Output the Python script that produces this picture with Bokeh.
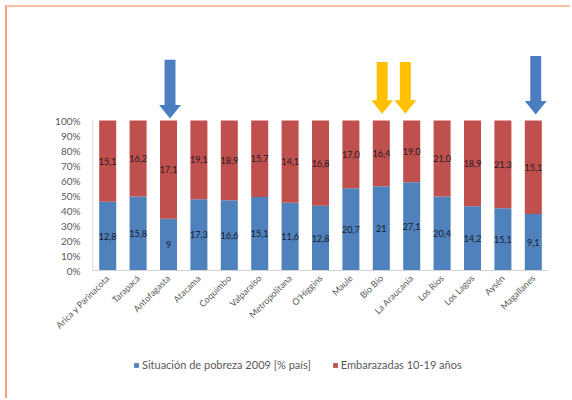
import math
from bokeh.plotting import figure
from bokeh.layouts import column
from bokeh.models import FixedTicker, NumeralTickFormatter, Legend, LegendItem, ColumnDataSource, Label
from bokeh.core.properties import value
from bokeh.embed import file_html
from bokeh.resources import INLINE

# ---------------- data ----------------
regiones = ["Arica y Parinacota", "Tarapacá", "Antofagasta", "Atacama", "Coquimbo",
            "Valparaíso", "Metropolitana", "O'Higgins", "Maule", "Bío Bío",
            "La Araucanía", "Los Ríos", "Los Lagos", "Aysén", "Magallanes"]
pobreza_2009 = ["12,8", "15,8", "9", "17,3", "16,6", "15,1", "11,6", "12,8",
                "20,7", "21", "27,1", "20,4", "14,2", "15,1", "9,1"]
embarazadas = ["15,1", "16,2", "17,1", "19,1", "18,9", "15,7", "14,1", "16,8",
               "17,0", "16,4", "19,0", "21,0", "18,9", "21,3", "15,1"]
y_ticks = [0.0, 0.1, 0.2, 0.3, 0.4, 0.5, 0.6, 0.7, 0.8, 0.9, 1.0]
serie_nombres = ["Situación de pobreza 2009 [% país]", "Embarazadas 10-19 años"]
flechas_azules = ["Antofagasta", "Magallanes"]
flechas_amarillas = ["Bío Bío", "La Araucanía"]

# ---------------- styles ----------------
FONT = "Lato"
BLUE = "#4F81BD"
RED = "#C0504D"
YELLOW = "#FFC000"
ARROW_BLUE = "#4A7EC0"
GRAY = "#595959"
ORANGE = "#F5A07A"

pv = [float(s.replace(",", ".")) for s in pobreza_2009]
ev = [float(s.replace(",", ".")) for s in embarazadas]
x = list(range(len(regiones)))
frac = [a / (a + b) for a, b in zip(pv, ev)]

src = ColumnDataSource(dict(
    x=x, frac=frac, one=[1.0] * len(x), zero=[0.0] * len(x),
    mid_p=[f / 2 for f in frac], mid_e=[(f + 1) / 2 for f in frac],
    lab_p=pobreza_2009, lab_e=embarazadas,
))

W = 563
p = figure(width=W, height=340, x_range=(-0.5, len(regiones) - 0.5), y_range=(0, 1.4667),
           output_backend="svg", toolbar_location=None,
           min_border_left=85, min_border_right=W - 541, min_border_top=43, min_border_bottom=77)
p.frame_align = False
p.background_fill_color = "white"
p.border_fill_color = "white"
p.outline_line_color = None
p.xgrid.visible = False
p.ygrid.visible = False

p.vbar(x="x", bottom="zero", top="frac", width=0.56, source=src,
       fill_color=BLUE, line_color=None)
p.vbar(x="x", bottom="frac", top="one", width=0.56, source=src,
       fill_color=RED, line_color=None)

common = dict(text_align="center", text_baseline="middle", text_font=value(FONT),
              text_font_size="9px", text_color="#1A1A24")
p.text(x="x", y="mid_p", text="lab_p", source=src, **common)
p.text(x="x", y="mid_e", text="lab_e", source=src, **common)

# y axis line (only 0..100%)
p.segment(x0=[-0.5], y0=[0], x1=[-0.5], y1=[1], line_color="#D0D0D0", line_width=1.5)

# arrows
def arrow(cx, top, tip):
    sw, hw, hl = 0.18, 0.36, 0.09
    xs = [cx - sw, cx + sw, cx + sw, cx + hw, cx, cx - hw, cx - sw]
    ys = [top, top, tip + hl, tip + hl, tip, tip + hl, tip + hl]
    return xs, ys

arrow_geom = {  # name: (x offset, top, tip)
    "Antofagasta": (0.05, 1.405, 1.013),
    "Magallanes": (0.08, 1.43, 1.04),
    "Bío Bío": (0.03, 1.39, 1.045),
    "La Araucanía": (-0.21, 1.39, 1.045),
}
for names, col in ((flechas_azules, ARROW_BLUE), (flechas_amarillas, YELLOW)):
    xs_all, ys_all = [], []
    for n in names:
        off, top, tip = arrow_geom[n]
        xs, ys = arrow(regiones.index(n) + off, top, tip)
        xs_all.append(xs)
        ys_all.append(ys)
    p.patches(xs_all, ys_all, fill_color=col, line_color=None)

# small stray orange mark at the right edge (screen units, relative to the frame)
p.add_layout(Label(x=472, y=-42, x_units="screen", y_units="screen", text="–",
                   text_color=ORANGE, text_font_size="9px", text_align="center",
                   text_baseline="middle"))

# axes
xa = p.xaxis[0]
xa.ticker = FixedTicker(ticks=x)
xa.major_label_overrides = {i: n for i, n in zip(x, regiones)}
xa.major_label_orientation = math.pi / 4
xa.axis_line_color = "#D0D0D0"
xa.major_tick_line_color = None
xa.minor_tick_line_color = None
xa.major_tick_out = 0
xa.major_label_standoff = 6
xa.major_label_text_font = FONT
xa.major_label_text_font_size = "9px"
xa.major_label_text_color = GRAY

ya = p.yaxis[0]
ya.ticker = FixedTicker(ticks=y_ticks)
ya.formatter = NumeralTickFormatter(format="0%")
ya.axis_line_color = None
ya.major_tick_line_color = None
ya.minor_tick_line_color = None
ya.major_tick_out = 0
ya.major_label_standoff = 12
ya.major_label_text_font = FONT
ya.major_label_text_font_size = "10px"
ya.major_label_text_color = GRAY

# legend strip
lg = figure(width=W, height=51, x_range=(0, 1), y_range=(0, 1),
            output_backend="svg", toolbar_location=None,
            min_border_left=0, min_border_right=0, min_border_top=0, min_border_bottom=0)
lg.frame_align = False
lg.axis.visible = False
lg.grid.visible = False
lg.outline_line_color = None
lg.border_fill_color = "white"
d1 = lg.vbar(x=[5], top=[1], width=0.1, fill_color=BLUE, line_color=None)
d2 = lg.vbar(x=[5], top=[1], width=0.1, fill_color=RED, line_color=None)
legend = Legend(items=[LegendItem(label=serie_nombres[0], renderers=[d1]),
                       LegendItem(label=serie_nombres[1], renderers=[d2])],
                orientation="horizontal", location=(126, 27),
                glyph_width=6, glyph_height=6, label_standoff=3, spacing=21,
                padding=0, margin=0, border_line_color=None, background_fill_alpha=0,
                label_text_font=FONT, label_text_font_size="11px", label_text_color=GRAY)
lg.add_layout(legend)

layout = column(p, lg, spacing=0)
layout.styles = {"border-left": "2px solid " + ORANGE, "border-top": "2px solid #F8BFA2",
                 "margin-left": "5px", "margin-top": "5px"}

open("out.html", "w").write(file_html(layout, INLINE))
